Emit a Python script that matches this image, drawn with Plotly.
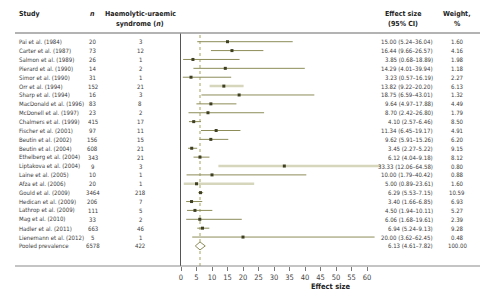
import plotly.graph_objects as go

studies = ["Pai et al. (1984)", "Carter et al. (1987)", "Salmon et al. (1989)", "Pierard et al. (1990)",
           "Simor et al. (1990)", "Orr et al. (1994)", "Sharp et al. (1994)", "MacDonald et al. (1996)",
           "McDonell et al. (1997)", "Chalmers et al. (1999)", "Fischer et al. (2001)", "Beutin et al. (2002)",
           "Beutin et al. (2004)", "Ethelberg et al. (2004)", "Liptakova et al. (2004)", "Laine et al. (2005)",
           "Afza et al. (2006)", "Gould et al. (2009)", "Hedican et al. (2009)", "Lathrop et al. (2009)",
           "Mag et al. (2010)", "Hadler et al. (2011)", "Lienemann et al. (2012)"]
n_total = [20, 73, 26, 14, 31, 152, 16, 83, 23, 415, 97, 156, 608, 343, 9, 10, 20, 3464, 206, 111, 33, 663, 5]
n_hus = [3, 12, 1, 2, 1, 21, 3, 8, 2, 17, 11, 15, 21, 21, 3, 1, 1, 218, 7, 5, 2, 46, 1]
effect = [15.00, 16.44, 3.85, 14.29, 3.23, 13.82, 18.75, 9.64, 8.70, 4.10, 11.34, 9.62, 3.45, 6.12,
          33.33, 10.00, 5.00, 6.29, 3.40, 4.50, 6.06, 6.94, 20.00]
ci_low = [5.24, 9.66, 0.68, 4.01, 0.57, 9.22, 6.59, 4.97, 2.42, 2.57, 6.45, 5.91, 2.27, 4.04,
          12.06, 1.79, 0.89, 5.53, 1.66, 1.94, 1.68, 5.24, 3.62]
ci_high = [36.04, 26.57, 18.89, 39.94, 16.19, 20.20, 43.01, 17.88, 26.80, 6.46, 19.17, 15.26, 5.22, 9.18,
           64.58, 40.42, 23.61, 7.15, 6.85, 10.11, 19.61, 9.13, 62.45]
weight = [1.60, 4.16, 1.98, 1.18, 2.27, 6.13, 1.32, 4.49, 1.79, 8.50, 4.91, 6.20, 9.15, 8.12,
          0.80, 0.88, 1.60, 10.59, 6.93, 5.27, 2.39, 9.28, 0.48]

pooled_label = "Pooled prevalence"
pooled_n = 6578
pooled_hus = 422
pooled_effect = 6.13
pooled_low = 4.61
pooled_high = 7.82
pooled_weight = 100.00

x_ticks = list(range(0, 65, 5))

# rows whose CI bar is drawn as a pale, thicker band in the reference
pale_rows = {"Orr et al. (1994)", "Liptakova et al. (2004)", "Afza et al. (2006)"}

FONT = "DejaVu Sans Condensed"
OFF = 8                      # page body margin
W, H = 499 - OFF, 301 - OFF
PL, PR, PT, PB = 181, 480, 33, 266   # plot area in page pixels
ML, MR, MT, MB = PL - OFF, W - (PR - OFF), PT - OFF, H - (PB - OFF)
PW = PR - PL
PH = PB - PT
ROW0, ROWSTEP = 41.7, 8.88


def px(x):
    return (x - PL) / PW


def py(y):
    return (PB - y) / PH


rows = list(range(len(studies)))
pooled_row = len(studies)

fig = go.Figure()

# confidence interval lines
lx, ly, px_, py_ = [], [], [], []
for i in rows:
    if studies[i] in pale_rows:
        px_ += [ci_low[i], ci_high[i], None]
        py_ += [i, i, None]
    else:
        lx += [ci_low[i], ci_high[i], None]
        ly += [i, i, None]
fig.add_trace(go.Scatter(x=lx, y=ly, mode="lines", line=dict(color="#8d8d5a", width=1),
                         hoverinfo="skip", showlegend=False))
fig.add_trace(go.Scatter(x=px_, y=py_, mode="lines", line=dict(color="#d6d6bd", width=2.5),
                         hoverinfo="skip", showlegend=False))

# point estimates
fig.add_trace(go.Scatter(x=effect, y=rows, mode="markers",
                         marker=dict(symbol="square", size=3, color="#3f3f22"),
                         showlegend=False))

# pooled diamond
fig.add_trace(go.Scatter(x=[pooled_low, pooled_effect, pooled_high, pooled_effect, pooled_low],
                         y=[pooled_row, pooled_row - 0.45, pooled_row, pooled_row + 0.45, pooled_row],
                         mode="lines", fill="toself", fillcolor="white",
                         line=dict(color="#8d8d5a", width=1), showlegend=False))

# pooled dotted line
fig.add_shape(type="line", xref="x", yref="paper", x0=pooled_effect, x1=pooled_effect, y0=0, y1=1,
              line=dict(color="#b5b57a", width=1.2, dash="dot"), layer="below")

# horizontal rules
fig.add_shape(type="line", xref="paper", yref="paper", x0=px(15), x1=px(480), y0=py(33), y1=py(33),
              line=dict(color="#9a9a9a", width=1.5))
fig.add_shape(type="line", xref="paper", yref="paper", x0=px(15), x1=px(480), y0=py(266), y1=py(266),
              line=dict(color="#8a8a8a", width=1.2))

ann = []
txt = dict(family=FONT, size=6, color="#3a3a3a")
hdr = dict(family=FONT, size=7, color="#222222")

for i in rows + [pooled_row]:
    if i < pooled_row:
        s, n, h, e, lo, hi, w = studies[i], n_total[i], n_hus[i], effect[i], ci_low[i], ci_high[i], weight[i]
    else:
        s, n, h, e, lo, hi, w = pooled_label, pooled_n, pooled_hus, pooled_effect, pooled_low, pooled_high, pooled_weight
    ann.append(dict(xref="paper", yref="y", x=px(17), y=i, text=s, xanchor="left", showarrow=False, font=txt))
    ann.append(dict(xref="paper", yref="y", x=px(93), y=i, text=str(n), xanchor="center", showarrow=False, font=txt))
    ann.append(dict(xref="paper", yref="y", x=px(140), y=i, text=str(h), xanchor="center", showarrow=False, font=txt))
    ann.append(dict(xref="paper", yref="y", x=px(435), y=i, text=f"{e:.2f} ({lo:.2f}–{hi:.2f})",
                    xanchor="right", showarrow=False, font=txt))
    ann.append(dict(xref="paper", yref="y", x=px(457), y=i, text=f"{w:.2f}", xanchor="center", showarrow=False, font=txt))

headers = [
    (17, 14, "<b>Study</b>", "left"),
    (93, 14, "<b><i>n</i></b>", "center"),
    (140, 14, "<b>Haemolytic-uraemic</b>", "center"),
    (140, 24, "<b>syndrome (<i>n</i>)</b>", "center"),
    (403, 14, "<b>Effect size</b>", "center"),
    (403, 24, "<b>(95% CI)</b>", "center"),
    (457, 14, "<b>Weight,</b>", "center"),
    (457, 24, "<b>%</b>", "center"),
]
for x, y, t, a in headers:
    ann.append(dict(xref="paper", yref="paper", x=px(x), y=py(y), text=t, xanchor=a, yanchor="middle",
                    showarrow=False, font=hdr))

fig.update_layout(
    width=W, height=H,
    margin=dict(l=ML, r=MR, t=MT, b=MB, autoexpand=False),
    paper_bgcolor="white", plot_bgcolor="white",
    annotations=ann,
    xaxis=dict(range=[0, PW / 3.1], tickvals=x_ticks, ticktext=[str(v) for v in x_ticks],
               showgrid=False, zeroline=False, showline=False, automargin=False,
               ticks="outside", ticklen=4, tickcolor="#777777",
               tickfont=dict(family=FONT, size=7.5, color="#444444"),
               title=dict(text="<b>Effect size</b>", font=dict(family=FONT, size=7.5, color="#222222"), standoff=2)),
    yaxis=dict(range=[(PB - ROW0) / ROWSTEP, (PT - ROW0) / ROWSTEP], showgrid=False, zeroline=False,
               automargin=False,
               showticklabels=False, showline=True, linecolor="#555555", linewidth=1),
)

fig.write_html("out.html")
